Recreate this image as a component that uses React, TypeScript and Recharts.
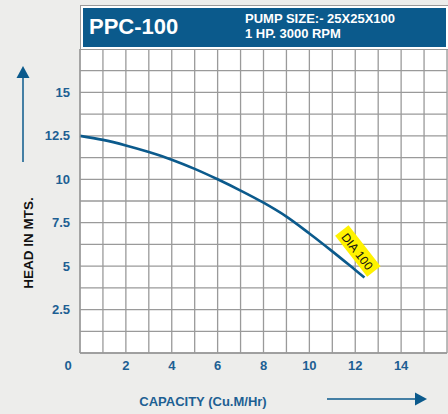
import { CartesianGrid, Line, LineChart, ReferenceDot, XAxis, YAxis } from "recharts";

const capacity = [0, 1, 2, 3, 4, 5, 6, 7, 8, 9, 10, 11, 12, 12.4];
const head = [12.5, 12.27, 11.95, 11.57, 11.13, 10.6, 10.0, 9.35, 8.65, 7.85, 6.88, 5.85, 4.78, 4.35];

const xGridTicks = [0, 1, 2, 3, 4, 5, 6, 7, 8, 9, 10, 11, 12, 13, 14, 15, 16];
const xLabels = [0, 2, 4, 6, 8, 10, 12, 14];
const yGridTicks = [0, 1.25, 2.5, 3.75, 5, 6.25, 7.5, 8.75, 10, 11.25, 12.5, 13.75, 15, 16.25, 17.5];
const yLabels = [2.5, 5, 7.5, 10, 12.5, 15];

const BLUE = "#0b5a8c";
const LABEL_BLUE = "#1d5f93";
const FONT = "Liberation Sans, Arial, sans-serif";

const data = capacity.map((c, i) => ({ capacity: c, head: head[i] }));

const XTick = (props: any) => {
  const { x, y, payload } = props;
  if (!xLabels.includes(payload.value)) return <g />;
  const dx = payload.value === 0 ? -12 : 0;
  return (
    <text x={x + dx} y={y + 4} textAnchor="middle" dominantBaseline="central" fill={LABEL_BLUE}
      fontSize={13} fontWeight="bold" fontFamily={FONT}>
      {payload.value}
    </text>
  );
};

const YTick = (props: any) => {
  const { x, y, payload } = props;
  if (!yLabels.includes(payload.value)) return <g />;
  return (
    <text x={x - 2} y={y} textAnchor="end" dominantBaseline="central" fill={LABEL_BLUE}
      fontSize={13} fontWeight="bold" fontFamily={FONT}>
      {payload.value}
    </text>
  );
};

const DiaTag = (props: any) => {
  const { cx, cy } = props;
  return (
    <g transform={`translate(${cx + 1},${cy + 1}) rotate(52)`}>
      <rect x={-26} y={-8.5} width={52} height={17} fill="#fff200" />
      <text x={0} y={1} textAnchor="middle" dominantBaseline="central" fontSize={12}
        fontFamily={FONT} fill="#111">
        DIA 100
      </text>
    </g>
  );
};

export default function App() {
  return (
    <div style={{ position: "absolute", left: 0, top: 0, width: 448, height: 414, background: "#ededeb", fontFamily: FONT }}>
      <LineChart width={448} height={414} data={data} margin={{ top: 49, right: 1, bottom: 0, left: 0 }}>
        <CartesianGrid stroke="#9a9a9a" strokeWidth={1.3} fill="#ffffff" />
        <XAxis dataKey="capacity" type="number" domain={[0, 16]} ticks={xGridTicks} interval={0}
          height={61} axisLine={{ stroke: "#9a9a9a", strokeWidth: 1.3 }} tickLine={false} tick={<XTick />} />
        <YAxis type="number" domain={[0, 17.5]} ticks={yGridTicks} interval={0} width={80}
          axisLine={{ stroke: "#9a9a9a", strokeWidth: 1.3 }} tickLine={false} tick={<YTick />} />
        <Line type="monotone" dataKey="head" stroke={BLUE} strokeWidth={2.6} dot={false} isAnimationActive={false} />
        <ReferenceDot x={12.07} y={5.93} shape={<DiaTag />} />
      </LineChart>
      <div style={{ position: "absolute", left: 80, top: 5, width: 363, height: 39, border: "1.5px solid #9a9a9a", background: "#fff", padding: 2 }}>
        <div style={{ width: "100%", height: "100%", background: BLUE, position: "relative", color: "#fff", fontWeight: "bold" }}>
          <div style={{ position: "absolute", left: 6, top: 6, fontSize: 22 }}>PPC-100</div>
          <div style={{ position: "absolute", left: 162, top: 3, fontSize: 13, lineHeight: "15px" }}>
            PUMP SIZE:- 25X25X100<br />1 HP. 3000 RPM
          </div>
        </div>
      </div>
      <svg width={448} height={414} style={{ position: "absolute", left: 0, top: 0, pointerEvents: "none" }}>
        <line x1={23} y1={162} x2={23} y2={76} stroke={BLUE} strokeWidth={1.5} />
        <polygon points="23,66 16.5,78 29.5,78" fill={BLUE} />
        <line x1={327} y1={399} x2={416} y2={399} stroke={BLUE} strokeWidth={1.5} />
        <polygon points="427,399 415,392.5 415,405.5" fill={BLUE} />
        <text x={28} y={243} transform="rotate(-90 28 243)" textAnchor="middle" dominantBaseline="central"
          fontSize={13.5} fontWeight="bold" fontFamily={FONT} fill="#111">HEAD IN MTS.</text>
        <text x={203} y={401} textAnchor="middle" dominantBaseline="central"
          fontSize={13} fontWeight="bold" fontFamily={FONT} fill={LABEL_BLUE}>CAPACITY (Cu.M/Hr)</text>
      </svg>
    </div>
  );
}
